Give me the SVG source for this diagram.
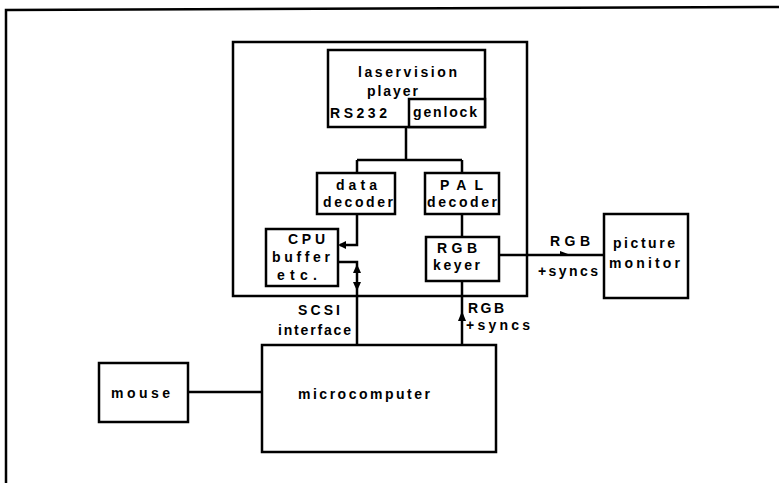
<svg xmlns="http://www.w3.org/2000/svg" width="779" height="483" viewBox="0 0 779 483">
<style>
.b{fill:#fff;stroke:#000;stroke-width:2.5}
.l{fill:none;stroke:#000;stroke-width:2.5}
text{font-family:"Liberation Sans",Arial,sans-serif;font-weight:bold;font-size:14px;fill:#000}
.a{fill:#000;stroke:none}
</style>
<rect width="779" height="483" fill="#fff"/>
<path class="l" d="M6,483 V10 L779,7"/>
<g id="unit"><rect class="b" x="233" y="42" width="294" height="254"/></g>
<g id="connectors">
<path class="l" d="M406,127 V160 M357,160 H462 M357,160 V173 M462,160 V173"/>
<path class="l" d="M357,214 V245 H340"/>
<polygon class="a" points="338,245 346,241 346,249"/>
<path class="l" d="M338,262 H357 V345"/>
<polygon class="a" points="357,264 353,273 361,273"/>
<polygon class="a" points="357,291 353,282 361,282"/>
<path class="l" d="M462,214 V237"/>
<path class="l" d="M462,281 V345"/>
<polygon class="a" points="462,311 458,321 466,321"/>
<path class="l" d="M499,255 H604"/>
<polygon class="a" points="568,254 560,251 560,255"/>
<path class="l" d="M188,392 H262"/>
</g>
<g id="laservision">
<rect class="b" x="328" y="50" width="157" height="77"/>
<rect class="b" x="409" y="99" width="76" height="28"/>
<text x="358" y="77" textLength="99" lengthAdjust="spacing">laservision</text>
<text x="367" y="96" textLength="51" lengthAdjust="spacing">player</text>
<text x="330" y="118" textLength="57" lengthAdjust="spacing">RS232</text>
<text x="413" y="117" textLength="64" lengthAdjust="spacing">genlock</text>
</g>
<g id="data-decoder">
<rect class="b" x="317" y="173" width="78" height="41"/>
<text x="336" y="190" textLength="41" lengthAdjust="spacing">data</text>
<text x="323" y="207" textLength="70" lengthAdjust="spacing">decoder</text>
</g>
<g id="pal-decoder">
<rect class="b" x="425" y="173" width="74" height="41"/>
<text x="440" y="190" textLength="43" lengthAdjust="spacing">PAL</text>
<text x="427" y="207" textLength="70" lengthAdjust="spacing">decoder</text>
</g>
<g id="cpu">
<rect class="b" x="266" y="229" width="72" height="57"/>
<text x="288" y="244" textLength="37" lengthAdjust="spacing">CPU</text>
<text x="272" y="262" textLength="58" lengthAdjust="spacing">buffer</text>
<text x="277" y="280" textLength="40" lengthAdjust="spacing">etc.</text>
</g>
<g id="rgb-keyer">
<rect class="b" x="426" y="237" width="73" height="44"/>
<text x="437" y="253" textLength="40" lengthAdjust="spacing">RGB</text>
<text x="433" y="270" textLength="47" lengthAdjust="spacing">keyer</text>
</g>
<g id="picture-monitor">
<rect class="b" x="604" y="214" width="84" height="84"/>
<text x="613" y="248" textLength="62" lengthAdjust="spacing">picture</text>
<text x="609" y="268" textLength="71" lengthAdjust="spacing">monitor</text>
</g>
<g id="microcomputer">
<rect class="b" x="262" y="345" width="234" height="107"/>
<text x="298" y="399" textLength="132" lengthAdjust="spacing">microcomputer</text>
</g>
<g id="mouse">
<rect class="b" x="99" y="363" width="89" height="59"/>
<text x="111" y="398" textLength="59" lengthAdjust="spacing">mouse</text>
</g>
<g id="labels">
<text x="298" y="315" textLength="42" lengthAdjust="spacing">SCSI</text>
<text x="278" y="335" textLength="73" lengthAdjust="spacing">interface</text>
<text x="468" y="313" textLength="36" lengthAdjust="spacing">RGB</text>
<text x="466" y="330" textLength="64" lengthAdjust="spacing">+syncs</text>
<text x="550" y="246" textLength="40" lengthAdjust="spacing">RGB</text>
<text x="538" y="276" textLength="60" lengthAdjust="spacing">+syncs</text>
</g>
</svg>
